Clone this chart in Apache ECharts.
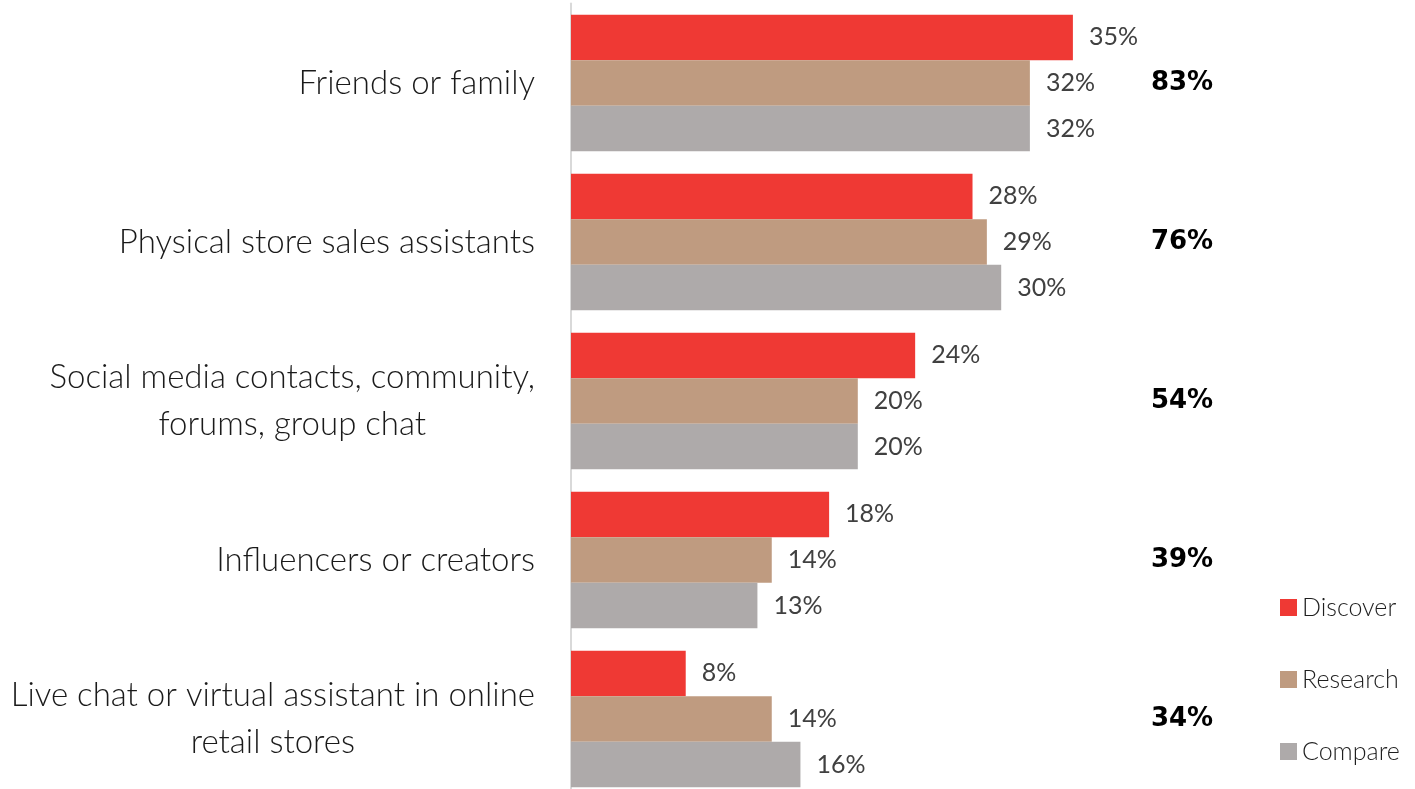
<!DOCTYPE html>
<html>
<head>
<meta charset="utf-8">
<script src="https://cdn.jsdelivr.net/npm/echarts@6/dist/echarts.min.js"></script>
<style>
  html, body { margin: 0; padding: 0; background: #fff; }
  #chart { width: 1415px; height: 789px; }
</style>
</head>
<body>
<div id="chart"></div>
<script>
// Sources consulted along the shopping journey
const categories = [
  'Friends or family',
  'Physical store sales assistants',
  'Social media contacts, community,\nforums, group chat',
  'Influencers or creators',
  'Live chat or virtual assistant in online\nretail stores'
];
const discover = [35, 28, 24, 18, 8];
const research = [32, 29, 20, 14, 14];
const compare = [32, 30, 20, 13, 16];
const totals = ['83%', '76%', '54%', '39%', '34%'];

const seriesNames = ['Discover', 'Research', 'Compare'];
const seriesColors = ['#EF3934', '#BF9B80', '#AEAAAA'];
const seriesValues = [discover, research, compare];

const FONT = 'Lato';

const chart = echarts.init(document.getElementById('chart'));

const option = {
  animation: false,
  backgroundColor: '#ffffff',
  grid: {
    left: 571,
    top: 3.5,
    right: 127,
    bottom: -9.5,
    containLabel: false,
    outerBoundsMode: 'none'
  },
  legend: {
    orient: 'vertical',
    left: 1275,
    top: 590,
    itemWidth: 17,
    itemHeight: 17,
    itemGap: 47,
    itemTextGap: 7,
    icon: 'rect',
    textStyle: { fontFamily: FONT, fontWeight: 300, fontSize: 25, color: '#1f1f1f' },
    data: seriesNames
  },
  xAxis: {
    type: 'value',
    min: 0,
    max: 50,
    show: false
  },
  yAxis: {
    type: 'category',
    inverse: true,
    data: categories,
    axisLine: { show: true, lineStyle: { color: '#d9d9d9', width: 2 } },
    axisTick: { show: false },
    axisLabel: {
      margin: 36,
      align: 'right',
      fontFamily: FONT,
      fontWeight: 300,
      fontSize: 33,
      color: '#1a1a1a',
      lineHeight: 47,
      formatter: function (v) {
        return v.split('\n').map(function (line) { return '{c|' + line + '}'; }).join('\n');
      },
      rich: {
        c: { align: 'center', fontFamily: FONT, fontWeight: 300, fontSize: 33, color: '#1a1a1a', lineHeight: 47 }
      }
    }
  },
  series: seriesNames.map(function (name, i) {
    return {
      name: name,
      type: 'bar',
      data: seriesValues[i],
      barGap: '0%',
      barCategoryGap: '14%',
      itemStyle: { color: seriesColors[i] },
      label: {
        show: true,
        position: 'right',
        distance: 16,
        formatter: '{c}%',
        fontFamily: FONT,
        fontSize: 25,
        color: '#404040'
      }
    };
  })
};

chart.setOption(option);

// Category totals, placed at each group's centre on the right
chart.setOption({
  graphic: totals.map(function (t, i) {
    const y = chart.convertToPixel({ yAxisIndex: 0 }, i);
    return {
      type: 'text',
      x: 1182,
      y: y,
      style: {
        text: t,
        fontFamily: 'DejaVu Sans',
        fontWeight: 'bold',
        fontSize: 26,
        fill: '#000000',
        align: 'center',
        verticalAlign: 'middle'
      }
    };
  })
});
</script>
</body>
</html>
